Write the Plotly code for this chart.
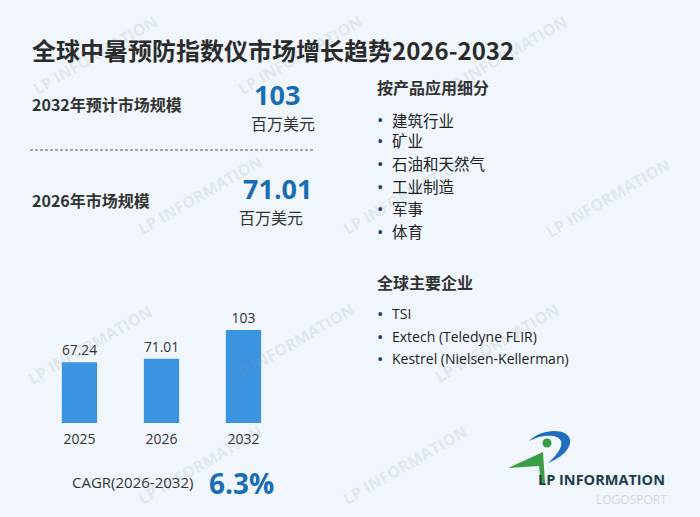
import plotly.graph_objects as go

W, H = 700, 517

# ---------------- data ----------------
years = ["2025", "2026", "2032"]
market_size = [67.24, 71.01, 103]
value_labels = ["67.24", "71.01", "103"]

title_text = "全球中暑预防指数仪市场增长趋势2026-2032"
kpi_2032_label = "2032年预计市场规模"
kpi_2032_value = "103"
kpi_2026_label = "2026年市场规模"
kpi_2026_value = "71.01"
unit_text = "百万美元"
cagr_label = "CAGR(2026-2032)"
cagr_value = "6.3%"

segment_title = "按产品应用细分"
segments = ["建筑行业", "矿业", "石油和天然气", "工业制造", "军事", "体育"]
company_title = "全球主要企业"
companies = ["TSI", "Extech (Teledyne FLIR)", "Kestrel (Nielsen-Kellerman)"]

# ---------------- styles ----------------
BG = "#f0f6fc"
DARK = "#333333"
BLUE = "#1a6db3"
NAVY = "#1f3a6e"
FONT = "Open Sans, Noto Sans CJK SC, sans-serif"
FONT_CJK = "Noto Sans CJK SC, Open Sans, sans-serif"


def px(x):
    return x / W


def py(y):
    return 1 - y / H


fig = go.Figure()

fig.add_trace(go.Bar(
    x=years, y=market_size,
    text=value_labels, textposition="outside",
    textfont=dict(size=14, color=DARK, family=FONT),
    marker=dict(color="#3a94e0", line=dict(width=0)),
    width=0.43, cliponaxis=False, hoverinfo="skip",
))

annotations = []


def txt(x, y, s, size, color=DARK, bold=False, xanchor="left", family=FONT_CJK, **kw):
    annotations.append(dict(
        x=px(x), y=py(y), xref="paper", yref="paper", text=f"<b>{s}</b>" if bold else s,
        showarrow=False, xanchor=xanchor, yanchor="middle",
        font=dict(size=size, color=color, family=family), **kw))


# watermarks (kept inside the frame)
wm_centers = [(95, 55), (300, 55), (505, 55),
              (200, 195), (405, 195), (608, 198),
              (90, 345), (292, 343), (497, 343),
              (200, 465), (405, 465)]
for (cx, cy) in wm_centers:
    annotations.append(dict(
        x=px(cx), y=py(cy), xref="paper", yref="paper", text="<b>LP INFORMATION</b>",
        showarrow=False, textangle=-30, xanchor="center", yanchor="middle",
        font=dict(size=16, color="rgba(140,150,165,0.17)", family=FONT)))

txt(30, 50, title_text, 24, color="#2b2b2b", bold=True)
txt(30, 104, kpi_2032_label, 16, bold=True)
txt(277, 94, kpi_2032_value, 27, color=BLUE, bold=True, xanchor="center", family=FONT)
txt(283, 123, unit_text, 16, xanchor="center")
txt(30, 200, kpi_2026_label, 16, bold=True)
txt(277, 188, kpi_2026_value, 27, color=BLUE, bold=True, xanchor="center", family=FONT)
txt(271, 217, unit_text, 16, xanchor="center")

txt(70, 482, cagr_label, 15, family=FONT)
txt(207, 483, cagr_value, 28, color=BLUE, bold=True, family=FONT)

txt(375, 87, segment_title, 16, bold=True)
seg_y = [120, 140, 163, 186, 208, 231]
for yy, s in zip(seg_y, segments):
    txt(380, yy, "•", 17, color=NAVY, xanchor="center", family=FONT)
    txt(390, yy, s, 15.5, color="#222222")

txt(375, 282, company_title, 16, bold=True)
comp_y = [313, 336, 358]
for yy, s in zip(comp_y, companies):
    txt(380, yy, "•", 17, color=NAVY, xanchor="center", family=FONT)
    txt(390, yy, s, 14, color="#222222", family=FONT)

# logo text
txt(594, 499, "LOGOSPORT", 12, color="rgba(170,175,185,0.45)", family=FONT)
txt(536, 479, "LP INFORMATION", 14.5, color="#1e3d4f", bold=True, family=FONT)

shapes = []
# dashed separator
shapes.append(dict(type="line", xref="paper", yref="paper", x0=px(30), x1=px(315),
                   y0=py(150), y1=py(150), line=dict(color="#555555", width=1, dash="3px,2px")))


def path(pts_cmds):
    out = []
    for c in pts_cmds:
        if isinstance(c, str):
            out.append(c)
        else:
            out.append(f"{px(c[0]):.5f},{py(c[1]):.5f}")
    return " ".join(out)


# logo green triangle
shapes.append(dict(type="path", xref="paper", yref="paper",
                   path=path(["M", (508, 468), "L", (543, 452), "L", (545, 484), "L", (541, 484), "L", (539, 466), "Z"]),
                   fillcolor="#3a9e47", line=dict(width=0)))
# logo blue arc
shapes.append(dict(type="path", xref="paper", yref="paper",
                   path=path(["M", (529, 441), "C", (540, 429), (568, 427), (570, 440),
                              "C", (571, 450), (560, 458), (548, 463),
                              "C", (557, 455), (563, 447), (561, 441),
                              "C", (558, 434), (542, 434), (529, 441), "Z"]),
                   fillcolor="#1f6fbf", line=dict(width=0)))
# logo green dot
shapes.append(dict(type="circle", xref="paper", yref="paper",
                   x0=px(542.5), x1=px(551.5), y0=py(447.5), y1=py(438.5),
                   fillcolor="#3a9e47", line=dict(width=0)))

fig.update_layout(
    width=W, height=H,
    margin=dict(l=0, r=0, t=0, b=0),
    paper_bgcolor=BG, plot_bgcolor="rgba(0,0,0,0)",
    showlegend=False,
    annotations=annotations,
    shapes=shapes,
    xaxis=dict(domain=[px(38.5), px(284.5)], range=[-0.5, 2.5], type="category",
               showgrid=False, zeroline=False, showline=False,
               ticks="outside", ticklen=3, tickcolor="rgba(0,0,0,0)",
               tickfont=dict(size=14, color=DARK, family=FONT), fixedrange=True),
    yaxis=dict(domain=[py(423), py(290)], range=[0, (423 - 290) / 0.9036],
               visible=False, fixedrange=True),
    bargap=0.57,
)

fig.write_html("out.html", config={"displayModeBar": False},
               post_script="document.body.style.margin='0';document.body.style.background='" + BG + "';")
